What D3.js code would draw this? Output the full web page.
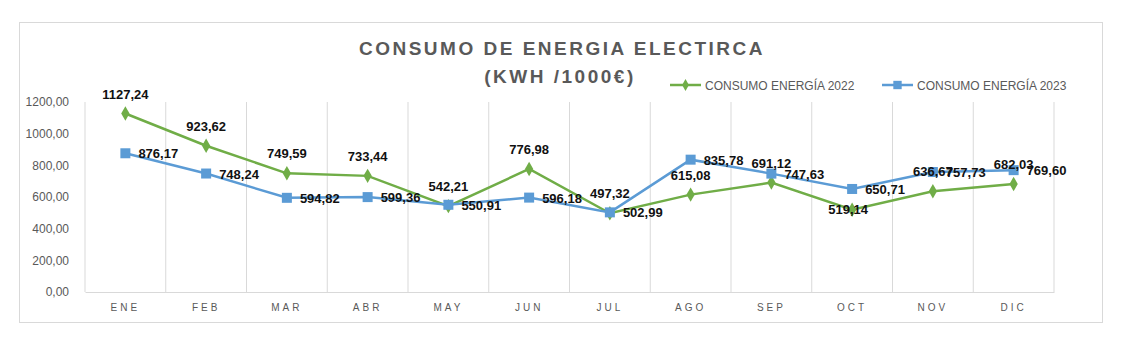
<!DOCTYPE html>
<html>
<head>
<meta charset="utf-8">
<script src="https://cdn.jsdelivr.net/npm/d3@7"></script>
<style>
  body { margin: 0; background: #fff; }
  svg { display: block; font-family: "Liberation Sans", Arial, sans-serif; }
</style>
</head>
<body>
<div id="chart"></div>
<script>
const months = ["ENE", "FEB", "MAR", "ABR", "MAY", "JUN", "JUL", "AGO", "SEP", "OCT", "NOV", "DIC"];
const consumo2022 = [1127.24, 923.62, 749.59, 733.44, 542.21, 776.98, 497.32, 615.08, 691.12, 519.14, 636.67, 682.03];
const consumo2023 = [876.17, 748.24, 594.82, 599.36, 550.91, 596.18, 502.99, 835.78, 747.63, 650.71, 757.73, 769.60];
const yTicks = [0, 200, 400, 600, 800, 1000, 1200];
const seriesNames = ["CONSUMO ENERGÍA 2022", "CONSUMO ENERGÍA 2023"];

let svgWidth = 1122, svgHeight = 349;
let plot = {left: 85, right: 1054, top: 102, bottom: 292};
const green = "#70ad47", blue = "#5b9bd5", grey = "#595959";

let svg = d3.select("#chart").append("svg")
    .attr("width", svgWidth)
    .attr("height", svgHeight);

// chart frame
svg.append("rect")
    .attr("x", 19.5).attr("y", 22.5)
    .attr("width", 1083).attr("height", 300)
    .attr("fill", "#fff")
    .attr("stroke", "#d9d9d9");

let x = d3.scaleBand().domain(months).range([plot.left, plot.right]),
    y = d3.scaleLinear().domain([0, 1200]).range([plot.bottom, plot.top]);
let cx = d => x(d) + x.bandwidth() / 2;

// vertical gridlines at category edges
let edges = months.map(m => x(m)).concat([plot.right]);
svg.append("g")
    .selectAll("line")
    .data(edges)
    .enter().append("line")
    .attr("x1", d => d).attr("x2", d => d)
    .attr("y1", plot.top).attr("y2", plot.bottom)
    .attr("stroke", "#d9d9d9");

// x axis
let xAxis = svg.append("g")
    .attr("transform", `translate(0, ${plot.bottom})`)
    .call(d3.axisBottom(x).tickSize(0).tickPadding(12));
xAxis.select(".domain").attr("stroke", "#d9d9d9");
xAxis.selectAll("text")
    .attr("fill", grey)
    .attr("font-size", 10)
    .attr("letter-spacing", "3px")
    .attr("font-family", "'Liberation Sans', Arial, sans-serif");

// y axis
let yAxis = svg.append("g")
    .attr("transform", `translate(${plot.left}, 0)`)
    .call(d3.axisLeft(y).tickValues(yTicks).tickSize(0).tickPadding(16)
        .tickFormat(d => d3.format(".2f")(d).replace(".", ",")));
yAxis.select(".domain").remove();
yAxis.selectAll("text")
    .attr("fill", grey)
    .attr("font-size", 12)
    .attr("font-family", "'Liberation Sans Narrow', 'Liberation Sans', Arial, sans-serif");

// title
svg.append("text")
    .attr("x", 562).attr("y", 55)
    .attr("text-anchor", "middle")
    .attr("fill", grey)
    .attr("font-size", 19)
    .attr("font-weight", "bold")
    .attr("letter-spacing", "2.5px")
    .text("CONSUMO DE ENERGIA ELECTIRCA");
svg.append("text")
    .attr("x", 560).attr("y", 83)
    .attr("text-anchor", "middle")
    .attr("fill", grey)
    .attr("font-size", 19)
    .attr("font-weight", "bold")
    .attr("letter-spacing", "2.5px")
    .text("(KWH /1000€)");

let line = d3.line().x((d, i) => cx(months[i])).y(d => y(d));
let fmt = v => d3.format(".2f")(v).replace(".", ",");

// series 2022
svg.append("path")
    .datum(consumo2022)
    .attr("d", line)
    .attr("fill", "none")
    .attr("stroke", green)
    .attr("stroke-width", 2.5);
svg.append("g")
    .selectAll("path")
    .data(consumo2022)
    .enter().append("path")
    .attr("d", d3.symbol(d3.symbolDiamond, 60))
    .attr("transform", (d, i) => `translate(${cx(months[i])}, ${y(d)})`)
    .attr("fill", green);

// series 2023
svg.append("path")
    .datum(consumo2023)
    .attr("d", line)
    .attr("fill", "none")
    .attr("stroke", blue)
    .attr("stroke-width", 2.5);
svg.append("g")
    .selectAll("rect")
    .data(consumo2023)
    .enter().append("rect")
    .attr("x", (d, i) => cx(months[i]) - 5)
    .attr("y", d => y(d) - 5)
    .attr("width", 10).attr("height", 10)
    .attr("fill", blue);

// data labels (2022 above the point, except OCT which sits on it; 2023 to the right)
svg.append("g")
    .selectAll("text")
    .data(consumo2022)
    .enter().append("text")
    .attr("x", (d, i) => cx(months[i]) - (months[i] === "OCT" ? 4 : 0))
    .attr("y", (d, i) => y(d) + (months[i] === "OCT" ? 4 : -15))
    .attr("text-anchor", "middle")
    .attr("font-size", 13)
    .attr("font-weight", "bold")
    .attr("fill", "#111")
    .text(fmt);
svg.append("g")
    .selectAll("text")
    .data(consumo2023)
    .enter().append("text")
    .attr("x", (d, i) => cx(months[i]) + 13)
    .attr("y", d => y(d) + 5)
    .attr("font-size", 13)
    .attr("font-weight", "bold")
    .attr("fill", "#111")
    .text(fmt);

// legend
let legend = svg.append("g").attr("transform", "translate(670, 85)");
let items = legend.selectAll("g")
    .data(seriesNames)
    .enter().append("g")
    .attr("transform", (d, i) => `translate(${i * 212}, 0)`);
items.append("line")
    .attr("x1", 0).attr("x2", 31)
    .attr("stroke", (d, i) => i ? blue : green)
    .attr("stroke-width", 2.5);
items.append("path")
    .attr("d", (d, i) => d3.symbol(i ? d3.symbolSquare : d3.symbolDiamond, i ? 70 : 40)())
    .attr("transform", "translate(15.5, 0)")
    .attr("fill", (d, i) => i ? blue : green);
items.append("text")
    .attr("x", 35).attr("y", 4.5)
    .attr("fill", grey)
    .attr("font-size", 12)
    .attr("font-family", "'Liberation Sans Narrow', 'Liberation Sans', Arial, sans-serif")
    .text(d => d);
</script>
</body>
</html>
